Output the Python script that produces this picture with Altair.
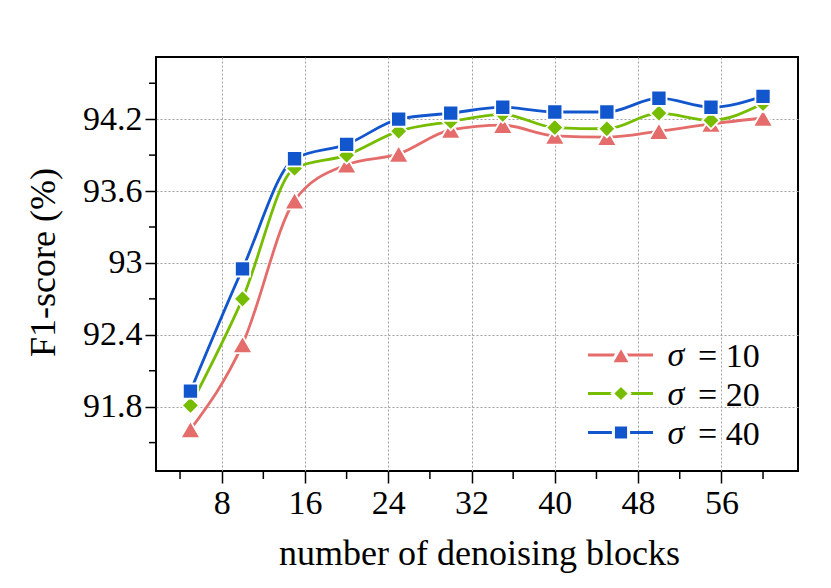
import altair as alt
import pandas as pd

# ---- data ----
blocks = [5, 10, 15, 20, 25, 30, 35, 40, 45, 50, 55, 60]
sigma10 = [91.61, 92.32, 93.52, 93.82, 93.91, 94.11, 94.15, 94.06, 94.05, 94.10, 94.16, 94.21]
sigma20 = [91.81, 92.70, 93.79, 93.90, 94.10, 94.18, 94.24, 94.13, 94.12, 94.25, 94.19, 94.33]
sigma40 = [91.93, 92.95, 93.87, 93.99, 94.20, 94.25, 94.30, 94.26, 94.26, 94.375, 94.30, 94.39]

series_names = ["σ = 10", "σ = 20", "σ = 40"]
series_colors = ["#E46C6B", "#76BD00", "#1256CE"]
series_shapes = ["triangle-up", "diamond", "square"]
legend_values = ["10", "20", "40"]

x_major = [8, 16, 24, 32, 40, 48, 56]
x_minor = [4, 12, 20, 28, 36, 44, 52, 60]
y_major = [91.8, 92.4, 93.0, 93.6, 94.2]
y_minor = [91.5, 92.1, 92.7, 93.3, 93.9, 94.5]

FONT = "Liberation Serif, Times New Roman, Times, serif"
W, H = 642, 414
MARKER_SIZES = [400, 300, 230]

rows = []
for name, vals in zip(series_names, [sigma10, sigma20, sigma40]):
    for b, v in zip(blocks, vals):
        rows.append({"blocks": b, "f1": v, "series": name})
df = pd.DataFrame(rows)

xs = alt.Scale(domain=[1.69, 63.36], nice=False, zero=False)
ys = alt.Scale(domain=[91.263, 94.719], nice=False, zero=False)
cs = alt.Scale(domain=series_names, range=series_colors)

label_expr = "datum.value == 93 ? '93' : format(datum.value, '.1f')"

x_axis = alt.Axis(values=x_major, title="number of denoising blocks", grid=True,
                  gridColor="#a0a0a0", gridDash=[2, 2], gridWidth=1,
                  domain=False, tickSize=12, tickWidth=1.5, tickColor="black",
                  labelFont=FONT, labelFontSize=34, labelColor="black", labelPadding=3,
                  titleFont=FONT, titleFontSize=36, titleFontWeight="normal", titleColor="black",
                  titleBaseline="middle", titleY=82, titleX=W / 2 + 2)
y_axis = alt.Axis(values=y_major, title="F1-score (%)", grid=True,
                  gridColor="#a0a0a0", gridDash=[2, 2], gridWidth=1,
                  domain=False, tickSize=11, tickWidth=1.5, tickColor="black",
                  labelFont=FONT, labelFontSize=34, labelColor="black", labelPadding=3,
                  labelExpr=label_expr,
                  titleFont=FONT, titleFontSize=36, titleFontWeight="normal", titleColor="black",
                  titleBaseline="middle", titleX=-113, titleY=H / 2 - 2, titleAngle=-90)

base = alt.Chart(df)
lines = base.mark_line(interpolate="monotone", strokeWidth=2.8).encode(
    x=alt.X("blocks:Q", scale=xs, axis=x_axis),
    y=alt.Y("f1:Q", scale=ys, axis=y_axis),
    color=alt.Color("series:N", scale=cs, legend=None),
    detail="series:N",
)

point_layers = []
for name, shape, size in zip(series_names, series_shapes, MARKER_SIZES):
    point_layers.append(
        base.transform_filter(alt.datum.series == name)
        .mark_point(filled=True, opacity=1, stroke="white", strokeWidth=1.8, shape=shape, size=size)
        .encode(
            x=alt.X("blocks:Q", scale=xs),
            y=alt.Y("f1:Q", scale=ys),
            color=alt.Color("series:N", scale=cs, legend=None),
        )
    )

# minor ticks drawn through the scales
xminor_df = pd.DataFrame({"v": x_minor})
yminor_df = pd.DataFrame({"v": y_minor})
xminor = alt.Chart(xminor_df).mark_rule(color="black", strokeWidth=1.5, clip=False).encode(
    x=alt.X("v:Q", scale=xs), y=alt.value(H), y2=alt.value(H + 8))
yminor = alt.Chart(yminor_df).mark_rule(color="black", strokeWidth=1.5, clip=False).encode(
    y=alt.Y("v:Q", scale=ys), x=alt.value(-7), x2=alt.value(0))

# legend (inside plot, lower right)
leg_layers = []
row_line_y = [298, 336.5, 375.5]
for i, name in enumerate(series_names):
    ldf = pd.DataFrame({"series": [name], "val": ["= " + legend_values[i]]})
    lb = alt.Chart(ldf)
    ly = row_line_y[i]
    leg_layers.append(lb.mark_rule(strokeWidth=2.8).encode(
        x=alt.value(432), x2=alt.value(497), y=alt.value(ly),
        color=alt.Color("series:N", scale=cs, legend=None)))
    leg_layers.append(lb.mark_point(filled=True, opacity=1, stroke="white", strokeWidth=3,
                                    shape=series_shapes[i], size=MARKER_SIZES[i]).encode(
        x=alt.value(465), y=alt.value(ly),
        color=alt.Color("series:N", scale=cs, legend=None)))
    leg_layers.append(lb.mark_text(text="σ", font=FONT, fontSize=34, fontStyle="italic",
                                   align="center", baseline="alphabetic", color="black").encode(
        x=alt.value(520), y=alt.value(ly + 11)))
    leg_layers.append(lb.mark_text(font=FONT, fontSize=34, align="left",
                                   baseline="alphabetic", color="black").encode(
        x=alt.value(542), y=alt.value(ly + 12), text="val:N"))

chart = alt.layer(lines, *point_layers, xminor, yminor, *leg_layers).properties(
    width=W, height=H,
    autosize=alt.AutoSizeParams(type="none"),
    padding={"left": 148, "top": 49, "right": 25, "bottom": 109},
    background="white",
).configure_view(stroke="black", strokeWidth=2)

chart.save("out.html", embed_options={"renderer": "svg", "actions": False})
